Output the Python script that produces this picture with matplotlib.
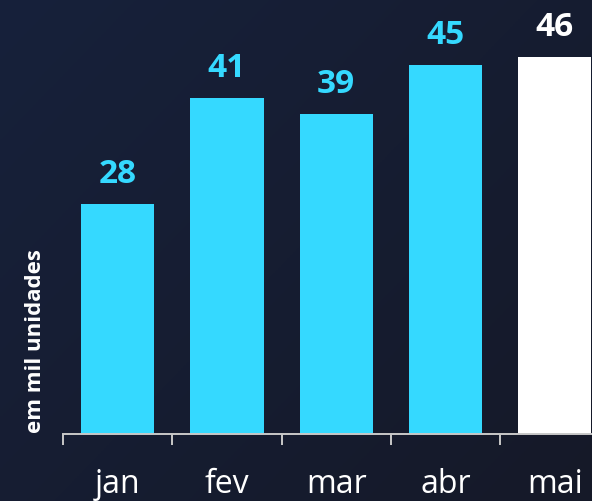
import matplotlib
matplotlib.use("Agg")
import matplotlib.pyplot as plt
import numpy as np

# data
months = ["jan", "fev", "mar", "abr", "mai"]
values = [28, 41, 39, 45, 46]
bar_colors = ["#35d9ff", "#35d9ff", "#35d9ff", "#35d9ff", "#ffffff"]
label_colors = ["#35d9ff", "#35d9ff", "#35d9ff", "#35d9ff", "#ffffff"]
ylabel = "em mil unidades"

plt.rcParams['font.family'] = ['Open Sans', 'DejaVu Sans']

fig = plt.figure(figsize=(5.92, 5.02), dpi=100)

# dark navy background with a soft gradient
bg = fig.add_axes([0, 0, 1, 1])
yy, xx = np.mgrid[0:1:200j, 0:1:200j]
top_left = np.array([0x17, 0x21, 0x3b]) / 255
bot_right = np.array([0x15, 0x19, 0x28]) / 255
t = (0.55 * xx + 0.45 * yy)[..., None]
bg.imshow(top_left * (1 - t) + bot_right * t, aspect='auto', extent=[0, 1, 0, 1], origin='upper')
bg.axis('off')

ax = fig.add_axes([63 / 592, 67 / 502, 1 - 63 / 592, 435 / 502])
ax.patch.set_alpha(0)

x = np.arange(len(months))
bars = ax.bar(x, values, width=0.67, color=bar_colors, zorder=2)

for xi, v, c in zip(x, values, label_colors):
    ax.annotate(str(v), (xi, v), xytext=(0, 16), textcoords='offset points',
                ha='center', va='baseline', fontsize=24, fontweight='bold', color=c)

ax.set_xlim(-0.5, 4.34)
ax.set_ylim(0, 435 / 8.2)

for s in ["top", "right", "left"]:
    ax.spines[s].set_visible(False)
ax.spines["bottom"].set_color("#c8c8c8")
ax.spines["bottom"].set_linewidth(1.4)
ax.set_yticks([])

# boundary ticks between categories
ax.set_xticks(np.arange(-0.5, 4, 1.0))
ax.set_xticklabels([])
ax.tick_params(axis='x', which='major', length=8, width=1.4, color="#c8c8c8", direction='out')

# month labels under the axis line
for xi, m in zip(x, months):
    ax.annotate(m, (xi, 0), xycoords=ax.get_xaxis_transform(), xytext=(0, -41.5),
                textcoords='offset points', ha='center', va='baseline',
                fontsize=23, color='white', annotation_clip=False)

fig.text(36 / 592, 1 - 341 / 502, ylabel, rotation=90, ha='center', va='center',
         fontsize=16, fontweight='bold', color='white')

fig.savefig("out.png", dpi=100, facecolor=fig.get_facecolor())
